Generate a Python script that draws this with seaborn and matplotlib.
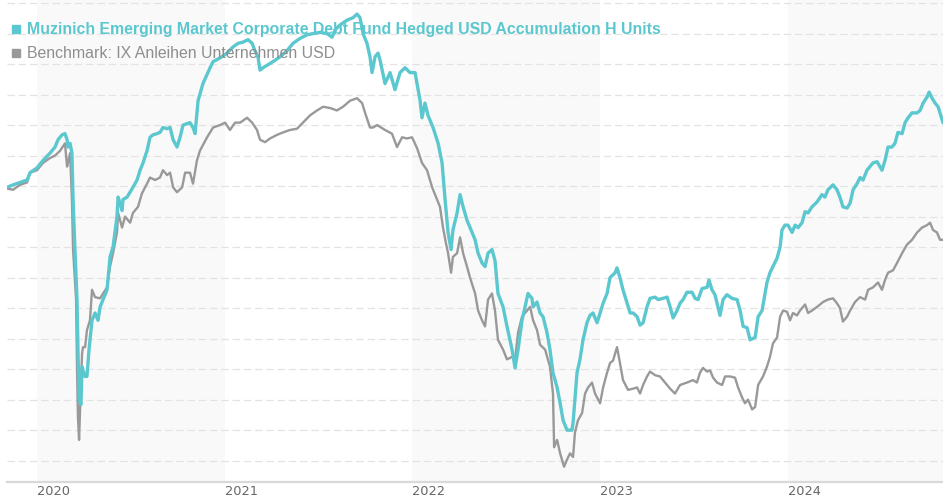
import matplotlib
matplotlib.use("Agg")
import matplotlib.pyplot as plt
from matplotlib.patches import Rectangle
import seaborn as sns
import pandas as pd

# ---------------- data (decimal year, index value) ----------------
fund_years = [2019.840, 2019.872, 2019.909, 2019.947, 2019.963, 2020.000, 2020.032, 2020.069, 2020.096, 2020.112,
              2020.133, 2020.149, 2020.160, 2020.165, 2020.176, 2020.186, 2020.192, 2020.202, 2020.213, 2020.218,
              2020.224, 2020.234, 2020.240, 2020.245, 2020.256, 2020.266, 2020.277, 2020.293, 2020.309, 2020.325,
              2020.336, 2020.352, 2020.373, 2020.389, 2020.405, 2020.426, 2020.432, 2020.442, 2020.453, 2020.458,
              2020.480, 2020.511, 2020.533, 2020.549, 2020.565, 2020.586, 2020.602, 2020.618, 2020.639, 2020.655,
              2020.671, 2020.693, 2020.709, 2020.725, 2020.746, 2020.762, 2020.778, 2020.815, 2020.831, 2020.842,
              2020.858, 2020.884, 2020.922, 2020.938, 2020.975, 2021.012, 2021.044, 2021.071, 2021.098, 2021.124,
              2021.146, 2021.161, 2021.177, 2021.188, 2021.204, 2021.225, 2021.257, 2021.295, 2021.332, 2021.364,
              2021.401, 2021.439, 2021.471, 2021.508, 2021.545, 2021.572, 2021.588, 2021.614, 2021.652, 2021.684,
              2021.705, 2021.721, 2021.737, 2021.758, 2021.774, 2021.785, 2021.801, 2021.817, 2021.828, 2021.854,
              2021.881, 2021.907, 2021.934, 2021.961, 2021.987, 2022.014, 2022.041, 2022.051, 2022.067, 2022.083,
              2022.110, 2022.137, 2022.158, 2022.174, 2022.190, 2022.206, 2022.216, 2022.238, 2022.254, 2022.270,
              2022.291, 2022.307, 2022.334, 2022.350, 2022.371, 2022.387, 2022.403, 2022.424, 2022.440, 2022.456,
              2022.483, 2022.504, 2022.531, 2022.547, 2022.563, 2022.584, 2022.600, 2022.616, 2022.637, 2022.643,
              2022.664, 2022.680, 2022.696, 2022.717, 2022.733, 2022.749, 2022.771, 2022.787, 2022.803, 2022.824,
              2022.850, 2022.856, 2022.877, 2022.893, 2022.909, 2022.930, 2022.946, 2022.962, 2022.984, 2023.000,
              2023.016, 2023.037, 2023.053, 2023.080, 2023.090, 2023.106, 2023.122, 2023.144, 2023.160, 2023.176,
              2023.197, 2023.213, 2023.229, 2023.250, 2023.266, 2023.293, 2023.309, 2023.335, 2023.357, 2023.373,
              2023.389, 2023.410, 2023.426, 2023.442, 2023.463, 2023.490, 2023.506, 2023.522, 2023.543, 2023.570,
              2023.580, 2023.596, 2023.612, 2023.628, 2023.639, 2023.655, 2023.676, 2023.703, 2023.730, 2023.746,
              2023.762, 2023.783, 2023.799, 2023.826, 2023.842, 2023.863, 2023.889, 2023.905, 2023.921, 2023.943,
              2023.959, 2023.969, 2023.985, 2024.001, 2024.023, 2024.039, 2024.055, 2024.076, 2024.092, 2024.108,
              2024.129, 2024.156, 2024.182, 2024.198, 2024.214, 2024.241, 2024.262, 2024.278, 2024.294, 2024.316,
              2024.332, 2024.348, 2024.369, 2024.385, 2024.401, 2024.422, 2024.438, 2024.454, 2024.476, 2024.502,
              2024.518, 2024.534, 2024.555, 2024.571, 2024.587, 2024.609, 2024.625, 2024.641, 2024.662, 2024.689,
              2024.705, 2024.721, 2024.742, 2024.753, 2024.769, 2024.785, 2024.801, 2024.827]
fund_values = [99.9, 100.1, 100.3, 100.5, 101.1, 101.5, 102.1, 102.7, 103.2, 103.8,
               104.2, 104.3, 103.8, 103.2, 103.5, 102.7, 98.9, 94.8, 90.7, 86.6,
               82.5, 82.1, 85.2, 84.9, 84.4, 84.4, 86.6, 89.0, 89.6, 89.0,
               90.1, 90.7, 91.5, 94.2, 95.0, 97.5, 99.1, 98.6, 98.0, 98.9,
               99.1, 99.9, 100.5, 101.3, 101.9, 102.9, 104.0, 104.2, 104.3, 104.4,
               104.8, 104.7, 104.8, 103.8, 103.2, 104.0, 105.0, 105.2, 104.8, 104.3,
               107.0, 108.4, 109.7, 110.2, 110.5, 110.9, 111.4, 111.7, 111.8, 112.0,
               111.7, 111.1, 110.6, 109.5, 109.7, 109.9, 110.2, 110.6, 111.1, 111.7,
               112.1, 112.4, 112.5, 112.6, 112.5, 112.2, 112.8, 113.2, 113.6, 113.8,
               114.1, 113.8, 112.5, 111.7, 110.6, 109.3, 110.6, 110.9, 110.3, 108.4,
               109.3, 107.9, 109.3, 109.7, 109.3, 109.3, 107.0, 105.6, 106.8, 105.8,
               104.8, 103.5, 101.9, 98.9, 96.2, 94.8, 96.4, 97.8, 99.3, 98.3,
               97.2, 96.6, 95.6, 94.5, 93.7, 93.4, 94.5, 94.8, 93.9, 91.2,
               90.1, 88.5, 86.6, 85.1, 86.6, 89.0, 90.1, 91.2, 90.8, 90.1,
               90.5, 89.6, 89.3, 88.0, 86.6, 84.7, 83.5, 82.2, 80.8, 80.0,
               80.0, 80.6, 84.7, 85.8, 87.4, 88.8, 89.4, 89.6, 88.8, 89.6,
               90.4, 91.2, 92.5, 92.9, 93.3, 92.5, 91.5, 90.4, 89.6, 89.6,
               89.3, 88.6, 88.8, 90.1, 90.8, 90.9, 90.7, 90.8, 90.9, 90.1,
               89.2, 89.8, 90.4, 90.7, 91.3, 91.3, 90.8, 90.7, 91.6, 91.7,
               92.3, 91.5, 91.1, 90.1, 89.4, 90.7, 91.1, 90.8, 90.7, 89.8,
               88.5, 88.4, 87.4, 87.6, 89.3, 89.8, 92.1, 92.9, 93.4, 94.1,
               95.0, 96.4, 96.8, 96.8, 96.2, 96.8, 96.6, 97.0, 97.9, 97.8,
               98.3, 98.7, 99.3, 99.1, 99.7, 100.1, 99.7, 99.1, 98.3, 98.2,
               98.6, 99.7, 100.2, 100.7, 100.5, 101.3, 101.6, 101.9, 102.0, 101.3,
               102.1, 103.2, 103.2, 103.5, 104.4, 104.3, 105.2, 105.6, 106.0, 106.0,
               106.2, 106.8, 107.3, 107.7, 107.2, 106.8, 106.5, 105.2]

bench_years = [2019.840, 2019.872, 2019.909, 2019.947, 2019.963, 2020.000, 2020.032, 2020.069, 2020.096, 2020.123,
               2020.149, 2020.160, 2020.165, 2020.176, 2020.186, 2020.192, 2020.208, 2020.213, 2020.218, 2020.224,
               2020.234, 2020.240, 2020.245, 2020.256, 2020.266, 2020.282, 2020.293, 2020.309, 2020.336, 2020.352,
               2020.373, 2020.389, 2020.405, 2020.426, 2020.432, 2020.453, 2020.469, 2020.496, 2020.511, 2020.538,
               2020.559, 2020.586, 2020.602, 2020.629, 2020.655, 2020.671, 2020.693, 2020.709, 2020.725, 2020.746,
               2020.773, 2020.789, 2020.815, 2020.831, 2020.852, 2020.868, 2020.906, 2020.938, 2020.975, 2021.002,
               2021.028, 2021.055, 2021.082, 2021.119, 2021.146, 2021.172, 2021.188, 2021.215, 2021.241, 2021.279,
               2021.311, 2021.348, 2021.385, 2021.417, 2021.455, 2021.492, 2021.524, 2021.561, 2021.598, 2021.630,
               2021.668, 2021.705, 2021.732, 2021.748, 2021.774, 2021.790, 2021.812, 2021.854, 2021.891, 2021.918,
               2021.945, 2021.971, 2021.998, 2022.025, 2022.051, 2022.078, 2022.105, 2022.131, 2022.147, 2022.163,
               2022.179, 2022.190, 2022.206, 2022.216, 2022.238, 2022.254, 2022.270, 2022.291, 2022.307, 2022.334,
               2022.350, 2022.371, 2022.387, 2022.403, 2022.424, 2022.440, 2022.456, 2022.483, 2022.504, 2022.531,
               2022.547, 2022.563, 2022.584, 2022.611, 2022.627, 2022.643, 2022.664, 2022.680, 2022.707, 2022.733,
               2022.749, 2022.755, 2022.771, 2022.787, 2022.808, 2022.824, 2022.840, 2022.856, 2022.866, 2022.882,
               2022.904, 2022.920, 2022.936, 2022.957, 2022.973, 2023.000, 2023.016, 2023.037, 2023.053, 2023.069,
               2023.090, 2023.106, 2023.122, 2023.149, 2023.176, 2023.197, 2023.213, 2023.229, 2023.250, 2023.266,
               2023.293, 2023.319, 2023.346, 2023.373, 2023.399, 2023.426, 2023.463, 2023.495, 2023.516, 2023.532,
               2023.548, 2023.570, 2023.586, 2023.602, 2023.623, 2023.650, 2023.666, 2023.692, 2023.719, 2023.735,
               2023.756, 2023.772, 2023.788, 2023.810, 2023.826, 2023.842, 2023.868, 2023.889, 2023.905, 2023.921,
               2023.943, 2023.959, 2023.975, 2023.996, 2024.012, 2024.028, 2024.049, 2024.065, 2024.092, 2024.108,
               2024.129, 2024.156, 2024.188, 2024.214, 2024.241, 2024.262, 2024.278, 2024.294, 2024.316, 2024.332,
               2024.358, 2024.385, 2024.412, 2024.428, 2024.454, 2024.481, 2024.502, 2024.518, 2024.534, 2024.561,
               2024.582, 2024.609, 2024.635, 2024.662, 2024.689, 2024.715, 2024.742, 2024.758, 2024.774, 2024.795,
               2024.811, 2024.827]
bench_values = [99.8, 99.7, 100.1, 100.3, 101.1, 101.3, 101.9, 102.3, 102.5, 102.9,
                103.5, 101.6, 101.9, 102.7, 98.9, 94.8, 90.7, 85.2, 81.1, 79.2,
                83.9, 86.3, 86.8, 86.8, 88.2, 89.0, 91.5, 90.9, 90.8, 91.2,
                91.7, 93.4, 94.5, 96.2, 97.8, 96.6, 97.5, 97.0, 97.8, 98.3,
                99.4, 100.2, 100.7, 100.5, 100.7, 101.3, 100.9, 101.1, 99.9, 99.5,
                99.9, 101.1, 101.1, 100.2, 102.1, 102.9, 104.0, 104.8, 105.0, 105.2,
                104.6, 105.2, 105.2, 105.6, 105.2, 104.6, 103.8, 103.6, 103.9, 104.2,
                104.4, 104.6, 104.7, 105.2, 105.8, 106.2, 106.5, 106.4, 106.2, 106.5,
                107.0, 107.2, 106.8, 106.0, 104.8, 104.8, 105.0, 104.6, 104.3, 103.2,
                104.0, 103.9, 104.0, 103.1, 101.9, 101.3, 99.9, 98.9, 98.3, 96.6,
                95.3, 94.5, 92.9, 94.2, 94.5, 95.8, 94.5, 93.4, 92.5, 91.2,
                89.8, 89.0, 88.5, 90.7, 91.2, 89.8, 87.4, 86.6, 85.8, 86.0,
                85.8, 88.0, 89.3, 89.8, 90.1, 89.0, 88.2, 87.0, 86.6, 85.2,
                83.0, 78.6, 79.2, 78.1, 77.0, 77.6, 78.1, 77.8, 79.8, 80.8,
                81.4, 83.0, 83.5, 83.9, 83.0, 82.2, 83.5, 84.7, 85.5, 85.7,
                86.8, 85.5, 84.1, 83.3, 83.4, 83.5, 83.0, 83.7, 84.4, 84.8,
                84.5, 84.4, 83.9, 83.4, 83.0, 83.7, 83.9, 84.1, 83.9, 84.7,
                85.1, 84.8, 84.9, 84.3, 83.9, 83.7, 84.4, 84.4, 84.3, 83.5,
                82.7, 82.2, 82.5, 81.7, 81.9, 83.7, 84.4, 85.2, 86.0, 87.1,
                87.6, 89.3, 89.8, 89.7, 89.0, 89.6, 89.4, 89.8, 90.3, 89.6,
                89.8, 90.1, 90.5, 90.7, 90.8, 90.4, 90.0, 88.9, 89.3, 89.8,
                90.5, 90.9, 90.7, 91.5, 91.7, 92.1, 91.5, 92.3, 92.9, 93.1,
                93.7, 94.5, 95.2, 95.6, 96.2, 96.6, 96.8, 97.0, 96.4, 96.2,
                95.6, 95.6]

fund_label = "Muzinich Emerging Market Corporate Debt Fund Hedged USD Accumulation H Units"
bench_label = "Benchmark: IX Anleihen Unternehmen USD"
year_ticks = [2020, 2021, 2022, 2023, 2024]
year_labels = ["2020", "2021", "2022", "2023", "2024"]
shaded_years = [2020, 2022, 2024]
grid_values = [77.5 + 2.5 * i for i in range(16)]

# ---------------- styling ----------------
TEAL = "#5BC7CE"
GREY = "#999999"

sns.set_theme(style="white")
plt.rcParams["font.family"] = ["Liberation Sans", "DejaVu Sans"]

W, H = 943, 500
fig = plt.figure(figsize=(W / 100, H / 100), dpi=100)
ax = fig.add_axes([7 / W, 18 / H, 936 / W, 482 / H])

x_lo, x_hi = 2019.840, 2024.827
y_lo, y_hi = 75.75, 115.25
ax.set_xlim(x_lo, x_hi)
ax.set_ylim(y_lo, y_hi)

for yr in shaded_years:
    ax.axvspan(yr, min(yr + 1, x_hi), color="#F9F9F9", zorder=0, lw=0)

ax.set_yticks(grid_values)
ax.yaxis.grid(True, color="#E3E3E3", linestyle=(0, (6, 3)), linewidth=0.9, zorder=0.5)
ax.xaxis.grid(False)
ax.set_axisbelow(True)

df_fund = pd.DataFrame({"year": fund_years, "value": fund_values})
df_bench = pd.DataFrame({"year": bench_years, "value": bench_values})
sns.lineplot(data=df_bench, x="year", y="value", ax=ax, color=GREY, lw=1.7,
             estimator=None, zorder=3)
sns.lineplot(data=df_fund, x="year", y="value", ax=ax, color=TEAL, lw=2.4,
             estimator=None, zorder=4)

ax.set_xlabel("")
ax.set_ylabel("")
ax.set_xticks(year_ticks)
ax.set_xticklabels(year_labels, family="DejaVu Sans")
for lab in ax.get_xticklabels():
    lab.set_ha("left")
ax.tick_params(axis="x", length=0, pad=2.5, labelsize=9.3, labelcolor="#666666")
ax.tick_params(axis="y", length=0, labelleft=False)

for s in ["top", "left", "right"]:
    ax.spines[s].set_visible(False)
ax.spines["bottom"].set_color("#D9D9D9")
ax.spines["bottom"].set_linewidth(1.6)

# ---------------- legend (top-left) ----------------
fig.add_artist(Rectangle((11.5 / W, (H - 33) / H), 8 / W, 8 / H,
                         transform=fig.transFigure, color=TEAL, zorder=2))
fig.add_artist(Rectangle((11.5 / W, (H - 57) / H), 8 / W, 8 / H,
                         transform=fig.transFigure, color=GREY, zorder=2))
t1 = fig.text(27 / W, (H - 34) / H, fund_label, color=TEAL, fontsize=10.5,
              fontweight="bold", ha="left", va="baseline", zorder=2)
t2 = fig.text(27 / W, (H - 57.5) / H, bench_label, color="#8E8E8E", fontsize=10.5,
              ha="left", va="baseline", zorder=2)

fig.canvas.draw()
r = fig.canvas.get_renderer()
for t, target in [(t1, 638), (t2, 311)]:
    w = t.get_window_extent(r).width
    t.set_fontsize(t.get_fontsize() * target / w)

fig.savefig("out.png", dpi=100)
